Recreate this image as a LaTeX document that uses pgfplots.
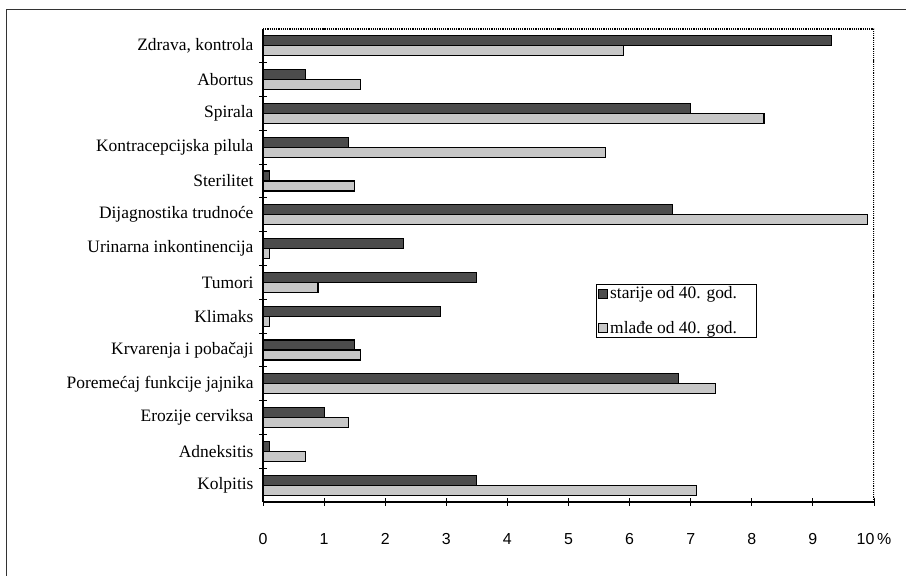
\documentclass[border=0pt]{standalone}
\usepackage{pgfplots}
\pgfplotsset{compat=1.18}
\usepackage{pgfplotstable}
\usepackage{fontspec}
\setmainfont{Liberation Serif}
\newfontfamily\arial{Liberation Sans}

\definecolor{darkbar}{gray}{0.30}
\definecolor{lightbar}{gray}{0.78}

% y: 13 = top row (Zdrava, kontrola) ... 0 = Kolpitis
\pgfplotstableread{
y  starije  mlade
13 9.3      5.9
12 0.7      1.6
11 7.0      8.2
10 1.4      5.6
9  0.1      1.5
8  6.7      9.9
7  2.3      0.1
6  3.5      0.9
5  2.9      0.1
4  1.5      1.6
3  6.8      7.4
2  1.0      1.4
1  0.1      0.7
0  3.5      7.1
}\data

\begin{document}
\begin{tikzpicture}
\useasboundingbox (0,0) rectangle (906bp,576bp);
\draw[line width=1.4bp, black!80] (6.5bp,-10bp) -- (6.5bp,566.5bp) -- (910bp,566.5bp);
\begin{axis}[
  at={(263bp,74bp)}, anchor=south west,
  scale only axis, width=611bp, height=473bp,
  xbar, bar width=10bp,
  xmin=0, xmax=10, ymin=-0.5, ymax=13.5,
  axis lines=left,
  axis line style={-, line width=1.3bp},
  xtick={0,1,...,10},
  xticklabels={0,1,2,3,4,5,6,7,8,9,10\,\%},
  ytick={0,1,...,13},
  yticklabels={Kolpitis,Adneksitis,Erozije cerviksa,Poremećaj funkcije jajnika,Krvarenja i pobačaji,Klimaks,Tumori,Urinarna inkontinencija,Dijagnostika trudnoće,Sterilitet,Kontracepcijska pilula,Spirala,Abortus,{Zdrava, kontrola}},
  minor ytick={0.5,1.5,...,12.5},
  tick align=center,
  major tick length=8bp, minor tick length=8bp,
  every major y tick/.style={draw=none},
  tick style={black, line width=1bp},
  /pgf/number format/assume math mode=true,
  xticklabel style={font=\arial\fontsize{16}{18}\selectfont, yshift=-24bp},
  yticklabel style={font=\fontsize{17.5}{19}\selectfont, xshift=-2bp},
  legend style={at={(rel axis cs:0.545,0.460)}, anchor=north west,
    draw=black, line width=0.8bp, font=\fontsize{17.5}{19}\selectfont,
    row sep=17bp, inner xsep=2bp, inner ysep=0bp, cells={anchor=west}},
  legend image code/.code={\draw[#1, line width=0.8bp] (0bp,-4.5bp) rectangle (9bp,4.5bp);},
]
\addplot[fill=darkbar, draw=black, line width=1.2bp, bar shift=5bp] table[x=starije, y=y] {\data};
\addlegendentry{\makebox[142bp][l]{starije od 40. god.}}
\addplot[fill=lightbar, draw=black, line width=1.2bp, bar shift=-5bp] table[x=mlade, y=y] {\data};
\addlegendentry{\makebox[142bp][l]{mlađe od 40. god.}}
\draw[densely dotted, line width=1.2bp] (rel axis cs:0,1) -- (rel axis cs:1,1) -- (rel axis cs:1,0);
\end{axis}
\end{tikzpicture}
\end{document}
